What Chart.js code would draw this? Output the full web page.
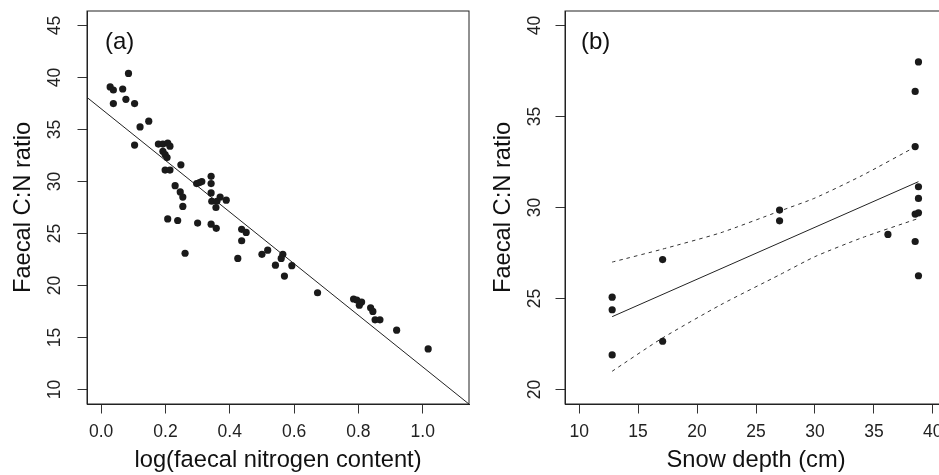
<!DOCTYPE html>
<html><head><meta charset="utf-8">
<script src="https://cdn.jsdelivr.net/npm/chart.js@4.4.1/dist/chart.umd.min.js"></script>
<style>
html,body{margin:0;padding:0;background:#fff;overflow:hidden;width:939px;height:475px;}
#wa{position:absolute;left:0;top:0;width:480px;height:475px;}
#wb{position:absolute;left:480px;top:0;width:480px;height:475px;}
</style></head><body>
<div id="wa"><canvas id="ca"></canvas></div>
<div id="wb"><canvas id="cb"></canvas></div>
<script>
// Panel (a)
const logN = [0.028,0.038,0.067,0.085,0.038,0.077,0.104,0.104,0.121,0.148,
  0.178,0.192,0.207,0.214,0.192,0.199,0.205,0.248,0.199,0.214,
  0.230,0.246,0.254,0.254,0.297,0.306,0.313,0.342,0.342,0.342,
  0.344,0.360,0.370,0.389,0.357,0.207,0.238,0.300,0.342,0.358,
  0.437,0.451,0.437,0.261,0.425,0.500,0.518,0.565,0.560,0.542,
  0.593,0.570,0.673,0.785,0.795,0.810,0.803,0.838,0.845,0.852,
  0.867,0.919,1.017];
const cnA = [39.1,38.8,38.9,40.4,37.5,37.9,37.5,33.5,35.25,35.8,
  33.6,33.6,33.7,33.4,32.9,32.6,32.3,31.6,31.1,31.1,
  29.6,29.0,28.5,27.6,29.8,29.9,30.0,30.5,29.8,28.9,
  28.1,28.1,28.5,28.2,27.5,26.4,26.25,26.0,25.9,25.5,
  25.4,25.1,24.3,23.1,22.6,23.0,23.4,23.0,22.6,21.95,
  21.9,20.9,19.3,18.7,18.6,18.4,18.1,17.85,17.5,16.7,
  16.7,15.7,13.9];
const fitAX = [-0.1, 1.2];
const fitAY = [39.48, 7.2];
const xTicksA = [0, 0.2, 0.4, 0.6, 0.8, 1.0];
const yTicksA = [10, 15, 20, 25, 30, 35, 40, 45];

// Panel (b)
const snow = [12.8,12.8,12.8,17.08,17.08,27.0,27.0,36.19,38.5,38.5,38.5,38.78,38.78,38.78,38.78,38.5,38.78];
const cnB  = [25.07,24.38,21.9,27.14,22.65,29.86,29.27,28.52,36.38,33.35,29.64,38.0,31.14,30.5,29.71,28.13,26.25];
const fitBX = [12.8, 38.78];
const fitBY = [24.0, 31.42];
const ciX     = [12.8, 17, 22, 27, 30, 34, 38.78];
const ciUpper = [27.0, 27.7, 28.61, 29.8, 30.52, 31.76, 33.43];
const ciLower = [21.0, 22.8, 24.65, 26.3, 27.3, 28.34, 29.4];
const xTicksB = [10, 15, 20, 25, 30, 35, 40];
const yTicksB = [20, 25, 30, 35, 40];

const FONT = "'Liberation Sans', Arial, Helvetica, sans-serif";
const INK = '#1a1a1a';

const boxPlugin = {
  id: 'box',
  afterDraw(chart, args, opts) {
    const {ctx, chartArea: a} = chart;
    ctx.save();
    ctx.strokeStyle = '#222';
    ctx.lineWidth = 1;
    ctx.strokeRect(a.left, a.top, a.right - a.left, a.bottom - a.top);
    ctx.fillStyle = '#111';
    ctx.font = '24px ' + FONT;
    ctx.textBaseline = 'middle';
    ctx.textAlign = 'left';
    ctx.fillText(opts.label, a.left + opts.dx, a.top + 31);
    ctx.restore();
  }
};

function pts(xs, ys) { return xs.map((x, i) => ({x: x, y: ys[i]})); }

function makeConfig(p) {
  return {
    type: 'scatter',
    data: { datasets: p.datasets },
    options: {
      responsive: true,
      maintainAspectRatio: false,
      animation: false,
      layout: { padding: { left: 0, top: 11, right: p.padRight, bottom: 0 } },
      plugins: { legend: { display: false }, tooltip: { enabled: false }, box: { label: p.label, dx: p.labelDx } },
      scales: {
        x: {
          type: 'linear', min: p.xmin, max: p.xmax,
          afterBuildTicks: s => { s.ticks = p.xTicks.map(v => ({value: v})); },
          afterFit: s => { s.height = 71; s.paddingLeft = 0; s.paddingRight = 0; },
          grid: { display: true, drawOnChartArea: false, drawTicks: true, tickLength: 9.5, color: '#333', lineWidth: 1 },
          border: { display: true, color: '#222' },
          ticks: { color: '#222', font: { family: FONT, size: 17.5 }, padding: 8, maxRotation: 0, minRotation: 0, autoSkip: false,
                   callback: v => p.xFmt(v) },
          title: { display: true, text: p.xTitle, color: '#111', font: { family: FONT, size: 23.7 }, padding: { top: 0, bottom: 0 } }
        },
        y: {
          type: 'linear', min: p.ymin, max: p.ymax,
          afterBuildTicks: s => { s.ticks = p.yTicks.map(v => ({value: v})); },
          afterFit: s => { s.width = p.yWidth; s.paddingTop = 0; s.paddingBottom = 0; },
          grid: { display: true, drawOnChartArea: false, drawTicks: true, tickLength: 9.5, color: '#333', lineWidth: 1 },
          border: { display: true, color: '#222' },
          ticks: { color: '#222', font: { family: FONT, size: 17.5 }, padding: p.yPad, minRotation: 90, maxRotation: 90,
                   crossAlign: 'center', autoSkip: false, callback: v => String(v) },
          title: { display: true, text: p.yTitle, color: '#111', font: { family: FONT, size: 23.7 }, padding: { top: 9, bottom: 0 } }
        }
      }
    },
    plugins: [boxPlugin]
  };
}

new Chart(document.getElementById('ca'), makeConfig({
  label: '(a)', labelDx: 18,
  xmin: -0.044, xmax: 1.144, ymin: 8.6, ymax: 46.4,
  xTicks: xTicksA, yTicks: yTicksA, xFmt: v => v.toFixed(1),
  xTitle: 'log(faecal nitrogen content)', yTitle: 'Faecal C:N ratio',
  yWidth: 87, yPad: 13, padRight: 11,
  datasets: [
    { data: pts(logN, cnA), pointRadius: 3.6, pointBackgroundColor: INK, pointBorderWidth: 0, showLine: false },
    { data: pts(fitAX, fitAY), showLine: true, borderColor: '#222', borderWidth: 1, pointRadius: 0, fill: false }
  ]
}));

new Chart(document.getElementById('cb'), makeConfig({
  label: '(b)', labelDx: 16,
  xmin: 8.8, xmax: 41.2, ymin: 19.2, ymax: 40.8,
  xTicks: xTicksB, yTicks: yTicksB, xFmt: v => String(v),
  xTitle: 'Snow depth (cm)', yTitle: 'Faecal C:N ratio',
  yWidth: 85, yPad: 11, padRight: 13,
  datasets: [
    { data: pts(snow, cnB), pointRadius: 3.6, pointBackgroundColor: INK, pointBorderWidth: 0, showLine: false },
    { data: pts(fitBX, fitBY), showLine: true, borderColor: '#222', borderWidth: 1, pointRadius: 0, fill: false },
    { data: pts(ciX, ciUpper), showLine: true, borderColor: '#333', borderWidth: 1, borderDash: [3.5, 4], pointRadius: 0, fill: false, tension: 0.2 },
    { data: pts(ciX, ciLower), showLine: true, borderColor: '#333', borderWidth: 1, borderDash: [3.5, 4], pointRadius: 0, fill: false, tension: 0.2 }
  ]
}));
</script>
</body></html>
